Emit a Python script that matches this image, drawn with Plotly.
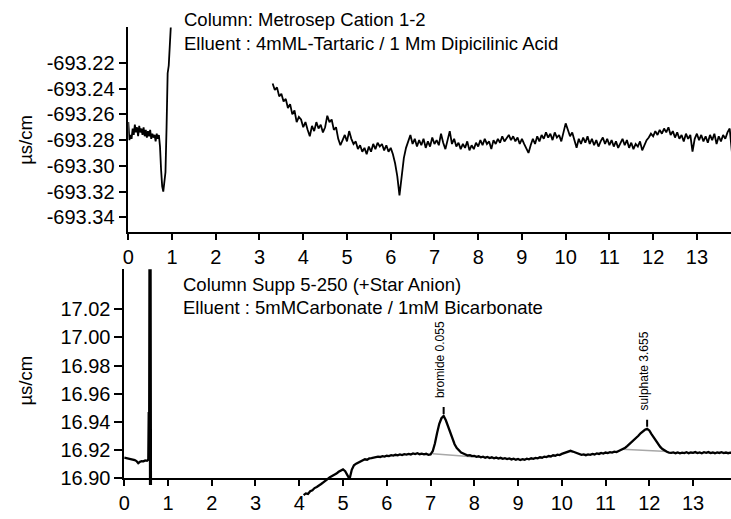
import plotly.graph_objects as go

# ---------------- data ----------------
# Top chromatogram (Metrosep Cation 1-2), conductivity in µs/cm
top_a_start, top_a_step = 0.0, 0.025
top_y_a = [
    -693.266, -693.280, -693.276, -693.279, -693.271, -693.276, -693.268, -693.274, -693.270, -693.277,
    -693.269, -693.274, -693.271, -693.276, -693.270, -693.277, -693.272, -693.278, -693.273, -693.277,
    -693.272, -693.279, -693.275, -693.278, -693.276, -693.281, -693.275, -693.279, -693.276, -693.285,
    -693.303, -693.316, -693.320, -693.311, -693.305, -693.270, -693.228, -693.222, -693.205, -693.190,
]
top_b_start, top_b_step = 3.30, 0.05
top_y_b = [
    -693.236, -693.241, -693.239, -693.246, -693.244, -693.250, -693.248, -693.255, -693.252, -693.260,  # 3.30
    -693.257, -693.266, -693.262, -693.264, -693.270, -693.266, -693.272, -693.277, -693.269, -693.273,  # 3.80
    -693.266, -693.271, -693.268, -693.274, -693.270, -693.261, -693.266, -693.264, -693.272, -693.270,  # 4.30
    -693.279, -693.284, -693.280, -693.276, -693.281, -693.273, -693.279, -693.283, -693.281, -693.287,  # 4.80
    -693.284, -693.289, -693.286, -693.291, -693.285, -693.289, -693.283, -693.287, -693.282, -693.285,  # 5.30
    -693.283, -693.288, -693.284, -693.289, -693.286, -693.291, -693.298, -693.308, -693.323, -693.307,  # 5.80
    -693.294, -693.286, -693.280, -693.276, -693.283, -693.279, -693.285, -693.280, -693.284, -693.279,  # 6.30
    -693.286, -693.281, -693.285, -693.278, -693.283, -693.280, -693.284, -693.275, -693.282, -693.287,  # 6.80
    -693.280, -693.273, -693.283, -693.279, -693.285, -693.282, -693.287, -693.283, -693.286, -693.281,  # 7.30
    -693.288, -693.284, -693.287, -693.282, -693.285, -693.280, -693.284, -693.279, -693.283, -693.281,  # 7.80
    -693.287, -693.280, -693.283, -693.279, -693.282, -693.277, -693.281, -693.278, -693.276, -693.280,  # 8.30
    -693.277, -693.281, -693.278, -693.283, -693.279, -693.283, -693.286, -693.290, -693.284, -693.279,  # 8.80
    -693.283, -693.277, -693.281, -693.276, -693.279, -693.274, -693.278, -693.275, -693.280, -693.274,  # 9.30
    -693.278, -693.276, -693.281, -693.274, -693.267, -693.272, -693.277, -693.274, -693.281, -693.286,  # 9.80
    -693.279, -693.283, -693.278, -693.282, -693.277, -693.283, -693.279, -693.284, -693.280, -693.285,  # 10.30
    -693.281, -693.278, -693.283, -693.279, -693.284, -693.280, -693.285, -693.281, -693.286, -693.282,  # 10.80
    -693.279, -693.284, -693.280, -693.286, -693.282, -693.287, -693.283, -693.285, -693.281, -693.288,  # 11.30
    -693.284, -693.280, -693.278, -693.275, -693.277, -693.273, -693.276, -693.272, -693.275, -693.271,  # 11.80
    -693.274, -693.270, -693.276, -693.273, -693.278, -693.274, -693.279, -693.276, -693.281, -693.275,  # 12.30
    -693.279, -693.276, -693.289, -693.279, -693.275, -693.280, -693.276, -693.281, -693.277, -693.282,  # 12.80
    -693.276, -693.280, -693.275, -693.283, -693.277, -693.281, -693.276, -693.279, -693.274, -693.271,  # 13.30
    -693.289,                                                                                              # 13.80
]

# Bottom chromatogram (Supp 5-250 anion)
bot_t_a = [0.00, 0.04, 0.08, 0.12, 0.16, 0.20, 0.24, 0.28, 0.32, 0.36, 0.40, 0.44, 0.48, 0.52, 0.55,
           0.56, 0.57, 0.58, 0.59, 0.60, 0.61]
bot_y_a = [16.9145, 16.9142, 16.9138, 16.9140, 16.9135, 16.9130, 16.9127, 16.9120, 16.9105, 16.9115,
           16.9120, 16.9118, 16.9125, 16.9122, 16.9130, 16.9470, 16.9300, 17.1000, 16.8950, 17.1000,
           16.8950]
bot_b_start, bot_b_step = 4.10, 0.05
bot_y_b = [
    16.8878, 16.8890, 16.8886, 16.8905, 16.8912, 16.8928, 16.8936, 16.8950, 16.8957, 16.8969,  # 4.10
    16.8982, 16.8991, 16.9005, 16.9014, 16.9022, 16.9031, 16.9044, 16.9050, 16.9061, 16.9048,  # 4.60
    16.9015, 16.8992, 16.9058, 16.9090, 16.9102, 16.9110, 16.9121, 16.9125, 16.9133, 16.9130,  # 5.10
    16.9139, 16.9141, 16.9145, 16.9148, 16.9151, 16.9149, 16.9155, 16.9152, 16.9158, 16.9156,  # 5.60
    16.9162, 16.9159, 16.9165, 16.9161, 16.9167, 16.9163, 16.9169, 16.9166, 16.9171, 16.9167,  # 6.10
    16.9174, 16.9170, 16.9176, 16.9169, 16.9173, 16.9168, 16.9172, 16.9165, 16.9168, 16.9190,  # 6.60
    16.9245, 16.9320, 16.9385, 16.9425, 16.9441, 16.9410, 16.9365, 16.9320, 16.9275, 16.9240,  # 7.10
    16.9212, 16.9195, 16.9181, 16.9174, 16.9168, 16.9160, 16.9162, 16.9155, 16.9157, 16.9150,  # 7.60
    16.9154, 16.9147, 16.9151, 16.9144, 16.9149, 16.9142, 16.9147, 16.9140, 16.9145, 16.9138,  # 8.10
    16.9143, 16.9136, 16.9141, 16.9134, 16.9139, 16.9132, 16.9137, 16.9130, 16.9135, 16.9128,  # 8.60
    16.9134, 16.9130, 16.9137, 16.9133, 16.9140, 16.9136, 16.9143, 16.9140, 16.9147, 16.9144,  # 9.10
    16.9152, 16.9149, 16.9156, 16.9153, 16.9161, 16.9158, 16.9166, 16.9163, 16.9171, 16.9176,  # 9.60
    16.9183, 16.9189, 16.9193, 16.9188, 16.9182, 16.9176, 16.9171, 16.9165, 16.9168, 16.9162,  # 10.10
    16.9167, 16.9164, 16.9171, 16.9167, 16.9175, 16.9171, 16.9178, 16.9174, 16.9181, 16.9177,  # 10.60
    16.9184, 16.9180, 16.9187, 16.9184, 16.9192, 16.9198, 16.9206, 16.9215, 16.9228, 16.9241,  # 11.10
    16.9255, 16.9268, 16.9284, 16.9300, 16.9318, 16.9331, 16.9343, 16.9350, 16.9338, 16.9312,  # 11.60
    16.9288, 16.9262, 16.9240, 16.9221, 16.9206, 16.9195, 16.9186, 16.9181, 16.9178, 16.9182,  # 12.10
    16.9176, 16.9181, 16.9175, 16.9180, 16.9177, 16.9183, 16.9176, 16.9181, 16.9178, 16.9184,  # 12.60
    16.9177, 16.9182, 16.9176, 16.9183, 16.9179, 16.9184, 16.9177, 16.9181, 16.9176, 16.9182,  # 13.10
    16.9178, 16.9183, 16.9177, 16.9181, 16.9176, 16.9180, 16.9178,                            # 13.60
]

# integration baselines under the two anion peaks
base_brom_t = [7.05, 7.95]
base_brom_y = [16.9172, 16.9150]
base_sulph_t = [11.38, 12.42]
base_sulph_y = [16.9205, 16.9188]

peak_names = ["bromide 0.055", "sulphate 3.655"]
peak_times = [7.30, 11.95]
peak_heights = [16.9441, 16.9350]

top_ticks = [-693.22, -693.24, -693.26, -693.28, -693.30, -693.32, -693.34]
bot_ticks = [16.90, 16.92, 16.94, 16.96, 16.98, 17.00, 17.02]
x_ticks = list(range(0, 14))

top_text = ["Column: Metrosep Cation 1-2", "Elluent : 4mML-Tartaric / 1 Mm Dipicilinic Acid"]
bot_text = ["Column Supp 5-250 (+Star Anion)", "Elluent : 5mMCarbonate / 1mM Bicarbonate"]
y_title = "µs/cm"

# ---------------- build ----------------
top_t_a = [round(top_a_start + top_a_step * i, 3) for i in range(len(top_y_a))]
top_t_b = [round(top_b_start + top_b_step * i, 3) for i in range(len(top_y_b))]
bot_t_b = [round(bot_b_start + bot_b_step * i, 3) for i in range(len(bot_y_b))]

W, H = 731, 519
FONT = "Liberation Sans, Arial, Helvetica, sans-serif"


def px(p):
    return p / W


def py(p):
    return 1 - p / H


fig = go.Figure()

fig.add_trace(go.Scatter(x=top_t_a + [None] + top_t_b, y=top_y_a + [None] + top_y_b,
                         mode="lines", line=dict(color="black", width=1.8), xaxis="x", yaxis="y",
                         connectgaps=False, hoverinfo="skip"))
fig.add_trace(go.Scatter(x=base_brom_t + [None] + base_sulph_t,
                         y=base_brom_y + [None] + base_sulph_y,
                         mode="lines", line=dict(color="#a8a8a8", width=1.5),
                         xaxis="x2", yaxis="y3", hoverinfo="skip"))
fig.add_trace(go.Scatter(x=bot_t_a + [None] + bot_t_b, y=bot_y_a + [None] + bot_y_b,
                         mode="lines", line=dict(color="black", width=2.3), xaxis="x2", yaxis="y3",
                         connectgaps=False, hoverinfo="skip"))

# pixel geometry
top_y_bottom_px, top_y_top_px = 237.3, 28.0
top_px_per_unit = (222.0 - 64.3) / 0.12
top_range = [-693.22 - (top_y_bottom_px - 64.3) / top_px_per_unit,
             -693.22 + (64.3 - top_y_top_px) / top_px_per_unit]
bot_y_bottom_px, bot_y_top_px = 488.3, 275.0
bot_px_per_unit = (488.3 - 316.0) / 0.12
bot_range = [16.90, 16.90 + (bot_y_bottom_px - bot_y_top_px) / bot_px_per_unit]
ext_bottom_px = 510.0
bot_range_ext = [16.90 - (ext_bottom_px - bot_y_bottom_px) / bot_px_per_unit, bot_range[1]]

top_x0_px, top_unit_px = 123.3, 44.1
bot_x0_px, bot_unit_px = 119.2, 44.12

axis_common = dict(showline=True, linecolor="black", linewidth=1.5, ticks="outside",
                   tickcolor="black", tickwidth=1.5, showgrid=False, zeroline=False,
                   tickfont=dict(family=FONT, size=20, color="black"), fixedrange=True)

fig.update_layout(
    width=W, height=H, autosize=False,
    margin=dict(l=0, r=0, t=0, b=0, pad=0),
    paper_bgcolor="white", plot_bgcolor="rgba(0,0,0,0)",
    showlegend=False,
    xaxis=dict(domain=[px(top_x0_px), 1], range=[0, (W - top_x0_px) / top_unit_px],
               anchor="y", tickvals=x_ticks, ticklen=6, **axis_common),
    yaxis=dict(domain=[py(top_y_bottom_px), py(top_y_top_px)], range=top_range,
               anchor="x", tickvals=top_ticks, ticktext=[f"{v:.2f}" for v in top_ticks],
               ticklen=8, **axis_common),
    xaxis2=dict(domain=[px(bot_x0_px), 1], range=[0, (W - bot_x0_px) / bot_unit_px],
                anchor="y2", tickvals=x_ticks, ticklen=6, **axis_common),
    yaxis2=dict(domain=[py(bot_y_bottom_px), py(bot_y_top_px)], range=bot_range,
                anchor="x2", tickvals=bot_ticks, ticktext=[f"{v:.2f}" for v in bot_ticks],
                ticklen=8, **axis_common),
    yaxis3=dict(domain=[py(ext_bottom_px), py(bot_y_top_px)], range=bot_range_ext,
                anchor="x2", visible=False, showgrid=False, zeroline=False, fixedrange=True),
)

ann = []
tf = dict(family=FONT, size=18.5, color="black")
for txt, ypx in zip(top_text, [20, 44]):
    ann.append(dict(text=txt, x=px(177), y=py(ypx), xref="paper", yref="paper",
                    xanchor="left", yanchor="middle", showarrow=False, font=tf))
for txt, ypx in zip(bot_text, [291, 314]):
    ann.append(dict(text=txt, x=px(176), y=py(ypx), xref="paper", yref="paper",
                    xanchor="left", yanchor="middle", showarrow=False, font=tf))
for ypx in [143, 389]:
    ann.append(dict(text=y_title, x=px(20), y=py(ypx), xref="paper", yref="paper",
                    xanchor="center", yanchor="middle", textangle=-90, showarrow=False, font=tf))
for name, t, h in zip(peak_names, peak_times, peak_heights):
    ann.append(dict(text=name, x=t, y=h, xref="x2", yref="y2", xanchor="center",
                    yanchor="bottom", yshift=16, xshift=-3, textangle=-90, showarrow=False,
                    font=dict(family=FONT, size=12, color="black")))
fig.update_layout(annotations=ann)

shapes = []
for t, h in zip(peak_times, peak_heights):
    shapes.append(dict(type="line", xref="x2", yref="y2", ysizemode="pixel", yanchor=h,
                       x0=t, x1=t, y0=2, y1=9, line=dict(color="black", width=2)))
fig.update_layout(shapes=shapes)

fig.write_html("out.html")
